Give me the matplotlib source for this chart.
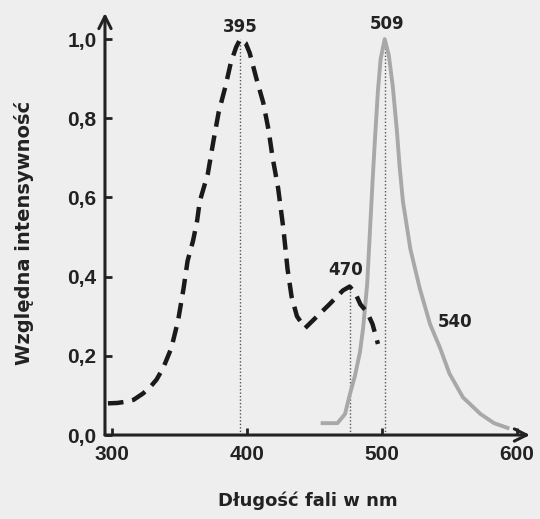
import numpy as np
import matplotlib.pyplot as plt

plt.rcParams['font.family'] = ['Liberation Sans', 'DejaVu Sans']

# widmo wzbudzenia (linia przerywana)
exc_nm = [297, 304, 310, 316, 323, 328, 333, 338, 344, 349, 353, 356, 360, 363,
          365, 371, 375, 379, 384, 388, 392, 395, 399, 402, 407, 412, 416, 419,
          423, 427, 430, 433, 437, 443, 452, 461, 471, 476, 480, 484, 489, 493, 497]
exc_int = [0.08, 0.081, 0.084, 0.089, 0.105, 0.12, 0.14, 0.17, 0.22, 0.29, 0.37,
           0.44, 0.49, 0.54, 0.59, 0.66, 0.74, 0.815, 0.88, 0.94, 0.98, 1.0, 0.99,
           0.965, 0.90, 0.84, 0.77, 0.70, 0.625, 0.52, 0.42, 0.35, 0.30, 0.27,
           0.30, 0.33, 0.365, 0.375, 0.36, 0.33, 0.31, 0.28, 0.23]

# widmo emisji (szara linia)
em_nm = [456, 467, 472.6, 476, 480, 483.7, 486, 489, 491, 493, 495, 497, 499, 502,
         505, 508, 511, 513, 515.5, 518.5, 521, 528, 535.6, 543, 550, 560, 573,
         583, 593]
em_int = [0.03, 0.03, 0.053, 0.10, 0.15, 0.21, 0.27, 0.38, 0.51, 0.64, 0.76, 0.87,
          0.95, 1.0, 0.96, 0.88, 0.77, 0.68, 0.59, 0.525, 0.47, 0.37, 0.28, 0.22,
          0.155, 0.095, 0.053, 0.03, 0.018]

# linie kropkowane do maksimow
peak_x = [395, 476, 502]
peak_y = [1.0, 0.375, 1.0]

# opisy maksimow
lab_text = ["395", "470", "509", "540"]
lab_x = [395, 473, 504, 554]
lab_y = [1.03, 0.418, 1.038, 0.286]

xticks = [300, 400, 500, 600]
yticks = [0.0, 0.2, 0.4, 0.6, 0.8, 1.0]
ytick_labels = ["0,0", "0,2", "0,4", "0,6", "0,8", "1,0"]

bg = '#eeeeee'
fig = plt.figure(figsize=(5.4, 5.19), dpi=100, facecolor=bg)
ax = fig.add_axes([0.1944, 0.1618, 0.787, 0.8132], facecolor=bg)

ax.vlines(peak_x, 0, peak_y, colors='#555555', linestyles=(0, (1, 1.5)), lw=1)
ax.plot(em_nm, em_int, color='#a8a8a8', lw=2.8)
ax.plot(exc_nm, exc_int, color='#1a1a1a', lw=3.2, dashes=(3.5, 2))

for t, x, y in zip(lab_text, lab_x, lab_y):
    ax.text(x, y, t, ha='center', va='center', fontsize=12, fontweight='bold',
            color='#222222', family='DejaVu Sans')

ax.set_xlim(294.8, 609.6)
ax.set_ylim(0, 1.066)
ax.set_xticks(xticks)
ax.set_yticks(yticks)
ax.set_yticklabels(ytick_labels)
ax.tick_params(direction='in', length=5, width=2, color='#222222',
               labelsize=15, labelcolor='#222222')
ax.tick_params(axis='x', pad=7)
ax.tick_params(axis='y', pad=6)
for lab in ax.get_xticklabels() + ax.get_yticklabels():
    lab.set_fontweight('bold')

for s in ['top', 'right', 'left', 'bottom']:
    ax.spines[s].set_visible(False)
# osie ze strzalkami
ax.annotate('', xy=(1, 0), xytext=(0, 0), xycoords='axes fraction',
            arrowprops=dict(arrowstyle='->', lw=2.2, color='#222222',
                            mutation_scale=22, shrinkA=0, shrinkB=0))
ax.annotate('', xy=(0, 1), xytext=(0, 0), xycoords='axes fraction',
            arrowprops=dict(arrowstyle='->', lw=2.2, color='#222222',
                            mutation_scale=22, shrinkA=0, shrinkB=0))

fig.text(0.044, 0.551, 'Względna intensywność', rotation=90, ha='center',
         va='center', fontsize=14, fontweight='bold', color='#222222',
         family='DejaVu Sans')
fig.text(0.57, 0.035, 'Długość fali w nm', ha='center', va='center',
         fontsize=13, fontweight='bold', color='#222222', family='DejaVu Sans')

fig.savefig('out.png', dpi=100, facecolor=bg)
